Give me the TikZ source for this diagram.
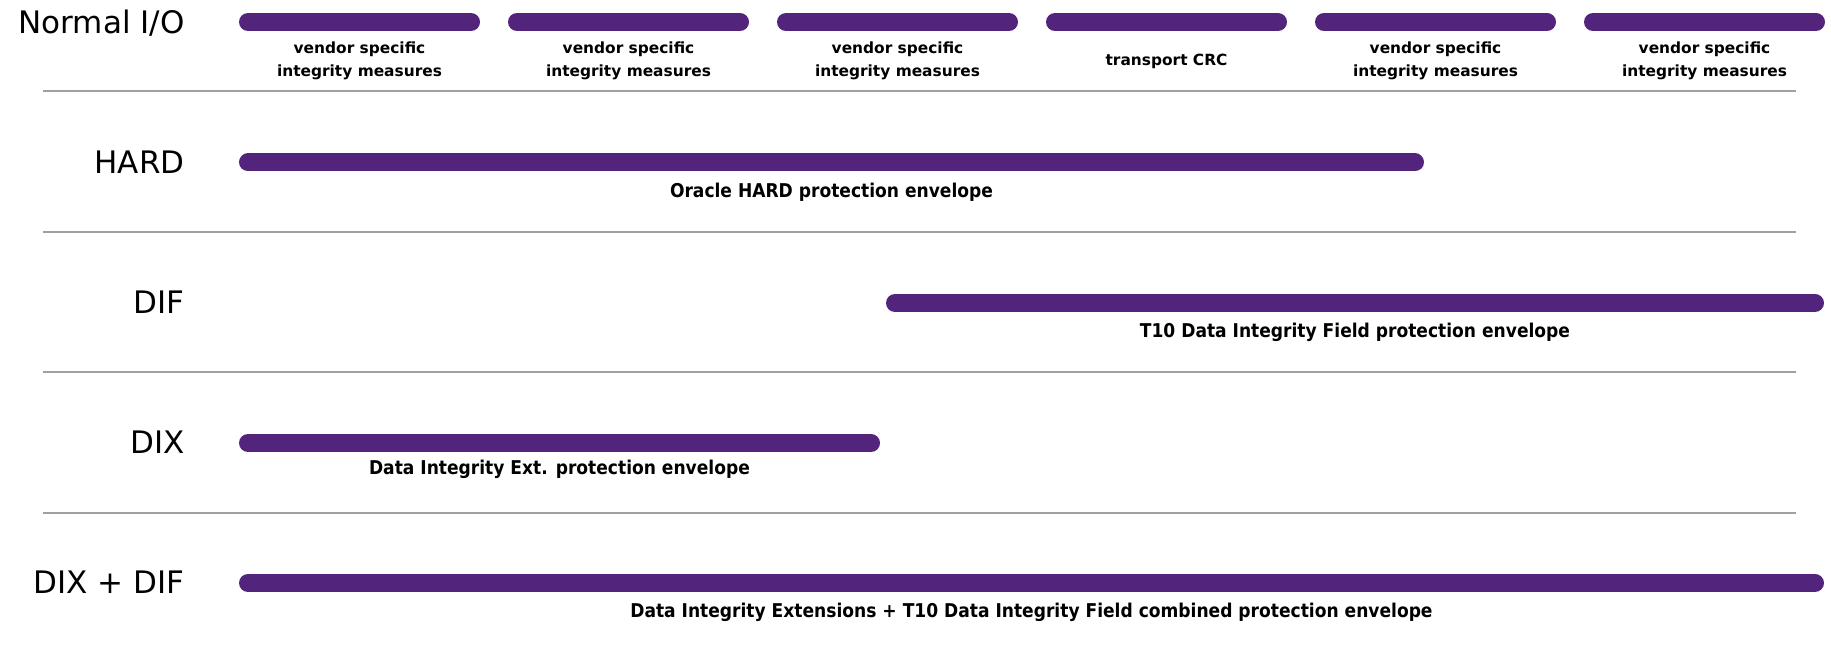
\documentclass[tikz,border=0pt]{standalone}
\usepackage{fontspec}
\setmainfont{DejaVu Sans}
\newfontfamily\condfont{DejaVu Sans Condensed}
\definecolor{barpurple}{RGB}{83,36,124}
\definecolor{rulegray}{RGB}{160,160,160}
\begin{document}
\begin{tikzpicture}[x=0.5pt,y=-0.5pt,
  bar/.style={line width=9pt, line cap=round, draw=barpurple},
  rule/.style={line width=1.2pt, draw=rulegray},
  rowlabel/.style={anchor=east, inner sep=0pt, font=\fontsize{15.5}{18}\selectfont},
  measure/.style={inner sep=0pt, align=center, font=\fontsize{7.7}{11.5}\selectfont\bfseries},
  envelope/.style={inner sep=0pt, font=\condfont\fontsize{9.5}{11}\selectfont\bfseries}]
\useasboundingbox (0,0) rectangle (1831,651);

% row titles
\node[rowlabel] (tnormal) at (185,23)  {Normal I/O};
\node[rowlabel] (thard)   at (185,162) {HARD};
\node[rowlabel] (tdif)    at (185,302) {DIF};
\node[rowlabel] (tdix)    at (185,442) {DIX};
\node[rowlabel] (tboth)   at (185,582) {DIX + DIF};

% separators between rows
\foreach \y/\n in {91/a,232/b,372/c,513/d}{
  \coordinate (sep\n l) at (43,\y);
  \coordinate (sep\n r) at (1796,\y);
  \draw[rule] (sep\n l) -- (sep\n r);
}

% normal I/O: one segment per stage
\foreach \i/\txt in {0/{vendor specific\\integrity measures},
                     1/{vendor specific\\integrity measures},
                     2/{vendor specific\\integrity measures},
                     3/{transport CRC},
                     4/{vendor specific\\integrity measures},
                     5/{vendor specific\\integrity measures}}{
  \coordinate (seg\i l) at ({248+269*\i},22);
  \coordinate (seg\i r) at ({471+269*\i},22);
  \draw[bar] (seg\i l) -- (seg\i r);
  \node[measure] (m\i) at ({359.5+269*\i},61) {\txt};
}

% HARD
\coordinate (hardl) at (248,162.5);
\coordinate (hardr) at (1415,162.5);
\draw[bar] (hardl) -- (hardr);
\node[envelope] (lhard) at (831.5,192) {Oracle HARD protection envelope};

% DIF
\coordinate (difl) at (895,303);
\coordinate (difr) at (1815,303);
\draw[bar] (difl) -- (difr);
\node[envelope] (ldif) at (1355,332) {T10 Data Integrity Field protection envelope};

% DIX
\coordinate (dixl) at (248,443);
\coordinate (dixr) at (871,443);
\draw[bar] (dixl) -- (dixr);
\node[envelope] (ldix) at (559.5,469.5) {Data Integrity Ext. protection envelope};

% DIX + DIF
\coordinate (bothl) at (248,583);
\coordinate (bothr) at (1815,583);
\draw[bar] (bothl) -- (bothr);
\node[envelope] (lboth) at (1031.5,612.5) {Data Integrity Extensions + T10 Data Integrity Field combined protection envelope};
\end{tikzpicture}
\end{document}
